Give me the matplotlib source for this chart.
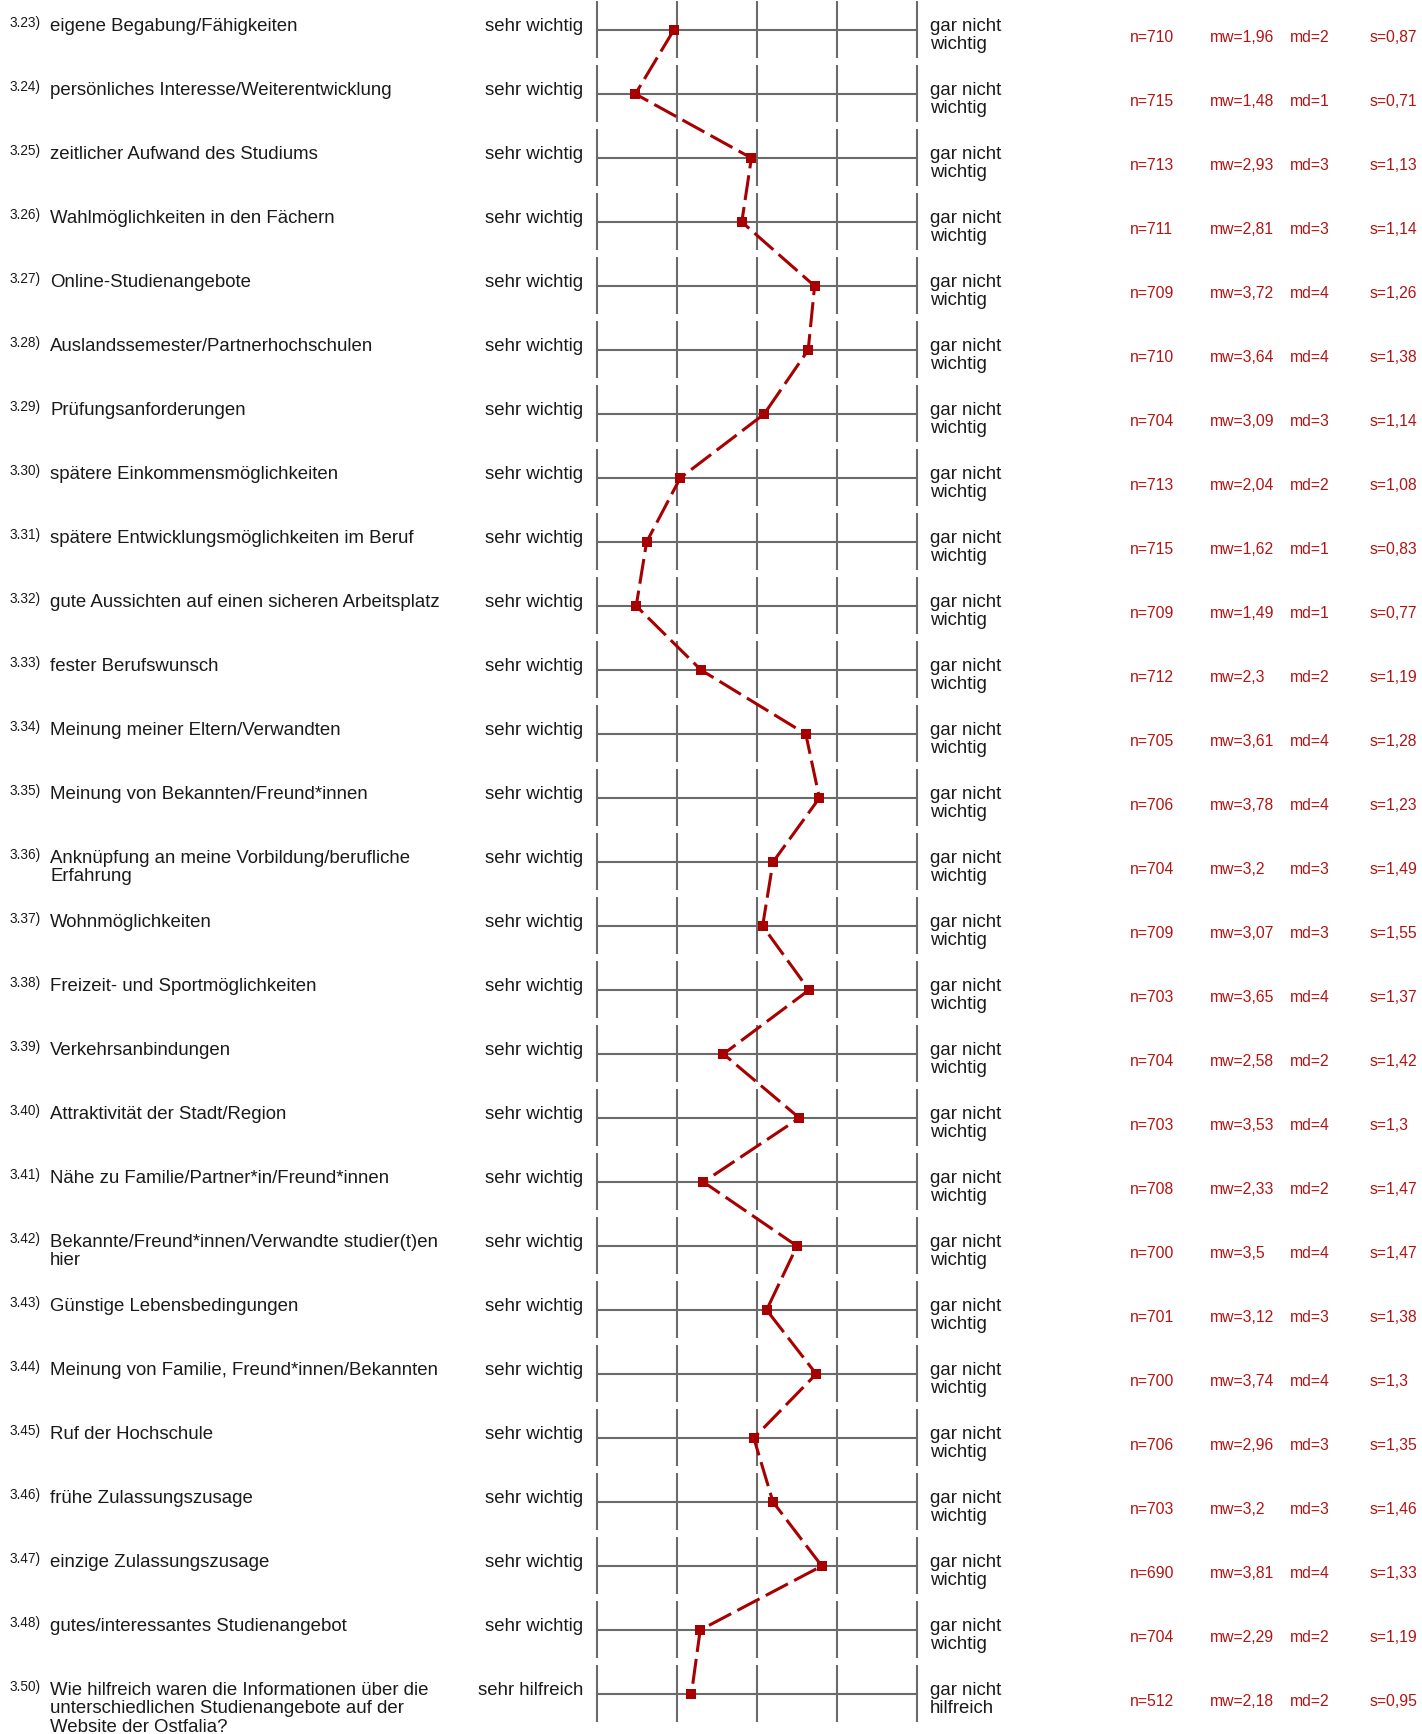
import matplotlib
matplotlib.use("Agg")
import matplotlib.pyplot as plt
import matplotlib.transforms as mtransforms

# Profile chart data (items 3.23 - 3.50)
item_ids = ["3.23)", "3.24)", "3.25)", "3.26)", "3.27)", "3.28)", "3.29)", "3.30)", "3.31)",
            "3.32)", "3.33)", "3.34)", "3.35)", "3.36)", "3.37)", "3.38)", "3.39)", "3.40)",
            "3.41)", "3.42)", "3.43)", "3.44)", "3.45)", "3.46)", "3.47)", "3.48)", "3.50)"]

labels = [
    "eigene Begabung/Fähigkeiten",
    "persönliches Interesse/Weiterentwicklung",
    "zeitlicher Aufwand des Studiums",
    "Wahlmöglichkeiten in den Fächern",
    "Online-Studienangebote",
    "Auslandssemester/Partnerhochschulen",
    "Prüfungsanforderungen",
    "spätere Einkommensmöglichkeiten",
    "spätere Entwicklungsmöglichkeiten im Beruf",
    "gute Aussichten auf einen sicheren Arbeitsplatz",
    "fester Berufswunsch",
    "Meinung meiner Eltern/Verwandten",
    "Meinung von Bekannten/Freund*innen",
    "Anknüpfung an meine Vorbildung/berufliche\nErfahrung",
    "Wohnmöglichkeiten",
    "Freizeit- und Sportmöglichkeiten",
    "Verkehrsanbindungen",
    "Attraktivität der Stadt/Region",
    "Nähe zu Familie/Partner*in/Freund*innen",
    "Bekannte/Freund*innen/Verwandte studier(t)en\nhier",
    "Günstige Lebensbedingungen",
    "Meinung von Familie, Freund*innen/Bekannten",
    "Ruf der Hochschule",
    "frühe Zulassungszusage",
    "einzige Zulassungszusage",
    "gutes/interessantes Studienangebot",
    "Wie hilfreich waren die Informationen über die\nunterschiedlichen Studienangebote auf der\nWebsite der Ostfalia?",
]

left_poles = ["sehr wichtig"] * 26 + ["sehr hilfreich"]
right_poles = ["gar nicht\nwichtig"] * 26 + ["gar nicht\nhilfreich"]

n_vals = [710, 715, 713, 711, 709, 710, 704, 713, 715, 709, 712, 705, 706, 704,
          709, 703, 704, 703, 708, 700, 701, 700, 706, 703, 690, 704, 512]
mw_vals = [1.96, 1.48, 2.93, 2.81, 3.72, 3.64, 3.09, 2.04, 1.62, 1.49, 2.3, 3.61, 3.78, 3.2,
           3.07, 3.65, 2.58, 3.53, 2.33, 3.5, 3.12, 3.74, 2.96, 3.2, 3.81, 2.29, 2.18]
md_vals = [2, 1, 3, 3, 4, 4, 3, 2, 1, 1, 2, 4, 4, 3, 3, 4, 2, 4, 2, 4, 3, 4, 3, 3, 4, 2, 2]
s_vals = [0.87, 0.71, 1.13, 1.14, 1.26, 1.38, 1.14, 1.08, 0.83, 0.77, 1.19, 1.28, 1.23, 1.49,
          1.55, 1.37, 1.42, 1.3, 1.47, 1.47, 1.38, 1.3, 1.35, 1.46, 1.33, 1.19, 0.95]

scale = [1, 2, 3, 4, 5]

# layout (pixels)
W, H = 1422, 1734
X0, UNIT = 597, 80        # pixel of scale value 1, pixels per scale step
Y0, PITCH = 30, 64        # pixel of first row line, row spacing
LINE_H = 18.3             # pixel distance between wrapped text lines

FONT = "Liberation Sans"
GRID = "#6a6a6a"
RED = "#a80000"
RED_TXT = "#b01515"
INK = "#1a1a1a"


def de(v):
    s = f"{v:.2f}".rstrip("0").rstrip(".")
    return s.replace(".", ",")


fig = plt.figure(figsize=(W / 100, H / 100), dpi=100)
ax = fig.add_axes([0, 0, 1, 1])
ax.set_xlim(1 - X0 / UNIT, 1 + (W - X0) / UNIT)
ax.set_ylim((H - Y0) / PITCH, -Y0 / PITCH)
ax.axis("off")

rows = list(range(len(labels)))

# grid per row
for i in rows:
    ax.plot([scale[0], scale[-1]], [i, i], color=GRID, lw=1.5, zorder=1)
    for v in scale:
        ax.plot([v, v], [i - 28 / PITCH, i + 27 / PITCH], color=GRID, lw=1.5, zorder=1)

# profile line
ax.plot(mw_vals, rows, color=RED, lw=2.2, dashes=(8.2, 2.3), zorder=2)
ax.plot(mw_vals, rows, ls="none", marker="s", ms=6.6, mec=RED, mfc=RED, mew=0, zorder=3)

blend = mtransforms.blended_transform_factory(fig.transFigure, ax.transData)


def row_text(xpix, i, dy, s, **kw):
    # each wrapped line placed on its own baseline
    for k, line in enumerate(s.split("\n")):
        tr = mtransforms.offset_copy(blend, fig=fig, x=0, y=-(dy + k * LINE_H), units="dots")
        ax.text(xpix / W, i, line, transform=tr, family=FONT, va="baseline", **kw)


for i in rows:
    row_text(10, i, -3, item_ids[i], fontsize=9.8, color=INK)
    row_text(50, i, 1, labels[i], fontsize=13.4, color=INK)
    row_text(583, i, 1, left_poles[i], fontsize=13.4, color=INK, ha="right")
    row_text(930, i, 1, right_poles[i], fontsize=13.4, color=INK)
    row_text(1130, i, 12.5, f"n={n_vals[i]}", fontsize=11.3, color=RED_TXT)
    row_text(1210, i, 12.5, f"mw={de(mw_vals[i])}", fontsize=11.3, color=RED_TXT)
    row_text(1290, i, 12.5, f"md={md_vals[i]}", fontsize=11.3, color=RED_TXT)
    row_text(1370, i, 12.5, f"s={de(s_vals[i])}", fontsize=11.3, color=RED_TXT)

fig.savefig("out.png", dpi=100)
